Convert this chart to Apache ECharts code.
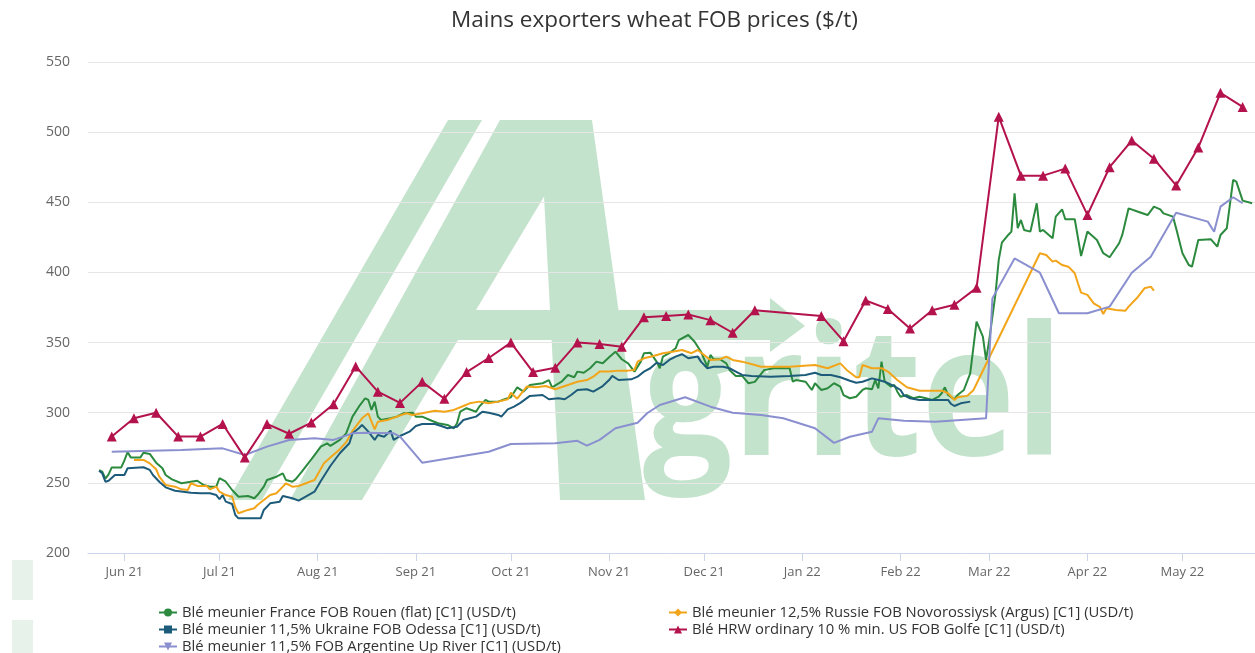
<!DOCTYPE html>
<html>
<head>
<meta charset="utf-8">
<script src="https://cdn.jsdelivr.net/npm/echarts@6/dist/echarts.min.js"></script>
<style>
html,body{margin:0;padding:0;background:#fff;}
#chart{width:1255px;height:653px;}
</style>
</head>
<body>
<div id="chart"></div>
<script>
const titleText = 'Mains exporters wheat FOB prices ($/t)';
const seriesNames = [
  'Blé meunier France FOB Rouen (flat) [C1] (USD/t)',
  'Blé meunier 12,5% Russie FOB Novorossiysk (Argus) [C1] (USD/t)',
  'Blé meunier 11,5% Ukraine FOB Odessa [C1] (USD/t)',
  'Blé HRW ordinary 10 % min. US FOB Golfe [C1] (USD/t)',
  'Blé meunier 11,5% FOB Argentine Up River [C1] (USD/t)'
];
const yTicks = [200, 250, 300, 350, 400, 450, 500, 550];
const monthNames = ['Jan','Feb','Mar','Apr','May','Jun','Jul','Aug','Sep','Oct','Nov','Dec'];

const france = [['2021-05-24',259],['2021-05-25',258],['2021-05-26',253],['2021-05-27',256],['2021-05-28',261],['2021-05-31',261],['2021-06-01',266],['2021-06-02',272],['2021-06-03',268],['2021-06-06',268],['2021-06-07',271.5],['2021-06-09',270.6],['2021-06-11',264.4],['2021-06-13',260.4],['2021-06-14',255.6],['2021-06-16',252.5],['2021-06-19',249.7],['2021-06-22',250.8],['2021-06-24',251.5],['2021-06-26',248.5],['2021-06-28',247.3],['2021-06-30',247.3],['2021-07-01',253.3],['2021-07-03',250.8],['2021-07-05',244.9],['2021-07-07',240.1],['2021-07-10',240.6],['2021-07-12',239],['2021-07-13',241.3],['2021-07-15',247.3],['2021-07-16',252],['2021-07-19',254.4],['2021-07-21',256.8],['2021-07-22',252],['2021-07-24',250.8],['2021-07-25',252.5],['2021-07-27',258],['2021-07-30',266.8],['2021-08-02',275.8],['2021-08-04',278.2],['2021-08-05',276.3],['2021-08-08',280.6],['2021-08-10',285.3],['2021-08-12',297.2],['2021-08-14',304.3],['2021-08-16',310.3],['2021-08-17',309.1],['2021-08-18',302],['2021-08-19',307.9],['2021-08-20',297.2],['2021-08-21',294.8],['2021-08-24',296],['2021-08-26',297.2],['2021-08-28',299.6],['2021-08-31',300],['2021-09-01',297.2],['2021-09-03',297.2],['2021-09-06',294.3],['2021-09-08',292.5],['2021-09-11',291.3],['2021-09-13',288.9],['2021-09-14',292.5],['2021-09-15',300.7],['2021-09-17',303.2],['2021-09-20',300.7],['2021-09-21',304.3],['2021-09-23',309.1],['2021-09-24',307.9],['2021-09-27',307.9],['2021-09-29',309.6],['2021-10-01',311],['2021-10-03',318.1],['2021-10-05',315],['2021-10-07',319.8],['2021-10-11',321],['2021-10-13',323.3],['2021-10-14',318.1],['2021-10-17',322.1],['2021-10-19',326.9],['2021-10-21',325.3],['2021-10-22',329.3],['2021-10-24',328.5],['2021-10-26',331.7],['2021-10-28',336.4],['2021-10-30',335.2],['2021-11-01',339.5],['2021-11-03',343.5],['2021-11-05',338.1],['2021-11-07',335.2],['2021-11-09',329.3],['2021-11-11',336.4],['2021-11-12',342.4],['2021-11-14',342.8],['2021-11-16',336.4],['2021-11-17',331.7],['2021-11-18',340],['2021-11-20',342.4],['2021-11-22',345.9],['2021-11-23',351.8],['2021-11-26',355.4],['2021-11-28',350.6],['2021-11-30',343.5],['2021-12-02',332.8],['2021-12-03',341.2],['2021-12-04',338.1],['2021-12-06',338.1],['2021-12-08',335.2],['2021-12-09',330.5],['2021-12-11',326.2],['2021-12-13',326.2],['2021-12-15',321],['2021-12-17',322],['2021-12-20',330.5],['2021-12-23',331.7],['2021-12-28',331.7],['2021-12-29',322.1],['2021-12-30',323.3],['2022-01-02',322.1],['2022-01-04',316.2],['2022-01-05',321],['2022-01-07',316.2],['2022-01-09',317.4],['2022-01-11',321],['2022-01-13',318.6],['2022-01-14',312.6],['2022-01-16',310.3],['2022-01-18',311.4],['2022-01-20',316.2],['2022-01-21',317.4],['2022-01-23',316.7],['2022-01-24',323.3],['2022-01-25',317.4],['2022-01-26',336.4],['2022-01-27',322.1],['2022-01-29',318.6],['2022-01-30',319.8],['2022-01-31',315],['2022-02-01',311.4],['2022-02-03',312.6],['2022-02-05',310.3],['2022-02-07',311.4],['2022-02-09',310.3],['2022-02-11',309.1],['2022-02-13',311.4],['2022-02-14',313.9],['2022-02-15',318.1],['2022-02-16',312.6],['2022-02-18',309.6],['2022-02-19',312.6],['2022-02-21',316.2],['2022-02-23',328.1],['2022-02-25',364.9],['2022-02-27',354.2],['2022-02-28',337.6],['2022-03-01',351.8],['2022-03-03',385.1],['2022-03-04',408.9],['2022-03-05',421.2],['2022-03-07',426.7],['2022-03-08',429.1],['2022-03-09',456.4],['2022-03-10',431.5],['2022-03-11',437.4],['2022-03-12',430.3],['2022-03-14',429.1],['2022-03-16',449.3],['2022-03-17',429.1],['2022-03-18',430.3],['2022-03-21',424.3],['2022-03-22',439.8],['2022-03-24',445],['2022-03-25',437.9],['2022-03-28',437.9],['2022-03-30',411.7],['2022-04-01',429.1],['2022-04-04',423.1],['2022-04-06',413.7],['2022-04-08',410.8],['2022-04-11',420.8],['2022-04-12',426.7],['2022-04-14',445.7],['2022-04-17',443.3],['2022-04-20',440.9],['2022-04-22',446.9],['2022-04-24',445],['2022-04-25',442.1],['2022-04-28',439.8],['2022-04-29',431.5],['2022-05-01',413.7],['2022-05-03',405.3],['2022-05-04',404.1],['2022-05-06',423.1],['2022-05-10',423.6],['2022-05-12',418.4],['2022-05-13',426.7],['2022-05-15',431.5],['2022-05-17',465.9],['2022-05-18',464.7],['2022-05-20',451.2],['2022-05-23',449.3]];

const russia = [['2021-06-04',266.3],['2021-06-07',266.3],['2021-06-09',263.9],['2021-06-11',259.7],['2021-06-12',254.4],['2021-06-14',248.5],['2021-06-17',247.3],['2021-06-19',245.4],['2021-06-21',244.9],['2021-06-22',249.7],['2021-06-24',247.8],['2021-06-27',247.8],['2021-06-28',245.4],['2021-06-30',247.3],['2021-07-01',243.7],['2021-07-03',241.3],['2021-07-05',240.1],['2021-07-06',232.6],['2021-07-07',228.3],['2021-07-10',230.7],['2021-07-12',231.9],['2021-07-13',234.2],['2021-07-15',237.8],['2021-07-17',241.3],['2021-07-19',242.6],['2021-07-21',247.3],['2021-07-22',249.7],['2021-07-24',247.3],['2021-07-26',247.8],['2021-07-31',252],['2021-08-03',264],['2021-08-05',268],['2021-08-08',274],['2021-08-10',279],['2021-08-12',287],['2021-08-15',296],['2021-08-17',299.6],['2021-08-18',293.6],['2021-08-19',288.2],['2021-08-20',293.6],['2021-08-23',294.8],['2021-08-26',297.2],['2021-08-29',299.6],['2021-08-31',298.4],['2021-09-03',299.6],['2021-09-07',301.4],['2021-09-10',300.7],['2021-09-13',302],['2021-09-16',304.8],['2021-09-18',306.7],['2021-09-21',307.9],['2021-09-24',306.7],['2021-09-27',307.9],['2021-09-30',309.6],['2021-10-01',314.3],['2021-10-03',310],['2021-10-06',318.6],['2021-10-09',318.1],['2021-10-12',319],['2021-10-15',316.7],['2021-10-19',319.8],['2021-10-22',322.1],['2021-10-25',323.3],['2021-10-27',325.7],['2021-10-29',329.3],['2021-11-01',329.3],['2021-11-04',330],['2021-11-07',330],['2021-11-09',330.5],['2021-11-10',336.4],['2021-11-12',338.8],['2021-11-15',340.4],['2021-11-18',342.4],['2021-11-21',343.5],['2021-11-24',344.7],['2021-11-27',342.4],['2021-11-29',344.7],['2021-12-01',341.2],['2021-12-03',337.6],['2021-12-06',338.1],['2021-12-08',340],['2021-12-10',337.6],['2021-12-13',336.4],['2021-12-17',334],['2021-12-19',332.8],['2021-12-22',332.8],['2021-12-28',332.8],['2022-01-05',334],['2022-01-09',331.7],['2022-01-13',335.2],['2022-01-15',330.5],['2022-01-18',325.3],['2022-01-19',325.3],['2022-01-20',334],['2022-01-23',331.7],['2022-01-26',331.7],['2022-01-28',329.3],['2022-01-31',323.3],['2022-02-03',318.1],['2022-02-07',315.7],['2022-02-14',315.7],['2022-02-16',313.9],['2022-02-18',309.1],['2022-02-19',311],['2022-02-22',312],['2022-02-24',316],['2022-03-17',413.7],['2022-03-19',412.4],['2022-03-21',407.7],['2022-03-22',408.4],['2022-03-24',405.3],['2022-03-26',404.1],['2022-03-28',399.4],['2022-03-29',392.3],['2022-03-30',385.6],['2022-04-01',384],['2022-04-03',378],['2022-04-05',375.2],['2022-04-06',370.4],['2022-04-07',374.4],['2022-04-10',373.2],['2022-04-13',372.7],['2022-04-14',375.6],['2022-04-17',382.7],['2022-04-19',388.7],['2022-04-21',389.9],['2022-04-22',387]];

const ukraine = [['2021-05-24',258.7],['2021-05-25',256.8],['2021-05-26',250.8],['2021-05-27',251.5],['2021-05-29',255.6],['2021-06-01',255.6],['2021-06-02',260.4],['2021-06-07',261.1],['2021-06-09',259.2],['2021-06-10',255.6],['2021-06-12',250.8],['2021-06-14',246.8],['2021-06-17',244.4],['2021-06-22',243],['2021-06-25',242.6],['2021-06-28',242.6],['2021-06-30',241.3],['2021-07-01',238.3],['2021-07-02',241.3],['2021-07-03',236.6],['2021-07-05',234.9],['2021-07-06',227.1],['2021-07-07',224.7],['2021-07-14',224.7],['2021-07-15',230.7],['2021-07-17',235.4],['2021-07-20',236.6],['2021-07-21',240.6],['2021-07-24',239],['2021-07-26',237.3],['2021-07-31',243.7],['2021-08-02',251.3],['2021-08-05',262],['2021-08-08',271.1],['2021-08-11',278.2],['2021-08-12',285.3],['2021-08-14',288.9],['2021-08-15',291.3],['2021-08-17',286.5],['2021-08-19',280.6],['2021-08-20',284.1],['2021-08-22',282.9],['2021-08-24',287.2],['2021-08-25',280.6],['2021-08-27',283.4],['2021-08-30',286.5],['2021-09-01',290.5],['2021-09-03',292],['2021-09-07',292],['2021-09-09',290.5],['2021-09-11',288.9],['2021-09-14',290],['2021-09-16',294.8],['2021-09-18',296],['2021-09-20',297.2],['2021-09-22',300.7],['2021-09-24',300],['2021-09-27',298.4],['2021-09-28',297.2],['2021-09-30',302.4],['2021-10-02',304.3],['2021-10-04',307],['2021-10-07',312],['2021-10-11',312.6],['2021-10-13',309.6],['2021-10-16',310.3],['2021-10-18',309.6],['2021-10-20',312.6],['2021-10-22',316.2],['2021-10-25',316.7],['2021-10-27',315],['2021-10-30',319],['2021-11-01',323.3],['2021-11-02',326.2],['2021-11-04',323.3],['2021-11-08',323.8],['2021-11-10',325.7],['2021-11-12',329.3],['2021-11-14',331.7],['2021-11-16',335.7],['2021-11-18',334],['2021-11-20',337.6],['2021-11-22',340],['2021-11-24',341.7],['2021-11-26',338.8],['2021-11-29',340],['2021-11-30',336.4],['2021-12-02',331.7],['2021-12-04',332.8],['2021-12-07',332.8],['2021-12-09',331.7],['2021-12-11',329.3],['2021-12-13',326.9],['2021-12-16',326.2],['2021-12-22',325.7],['2021-12-28',326.2],['2022-01-02',326.9],['2022-01-05',328.5],['2022-01-07',326.9],['2022-01-10',326.9],['2022-01-13',325.3],['2022-01-16',322.8],['2022-01-18',321.4],['2022-01-20',322.1],['2022-01-23',324.5],['2022-01-25',323.3],['2022-01-27',322.1],['2022-01-30',319],['2022-02-01',316.2],['2022-02-02',312.6],['2022-02-04',310.3],['2022-02-07',309.1],['2022-02-12',309.1],['2022-02-16',309.1],['2022-02-17',306.2],['2022-02-18',304.8],['2022-02-20',306.7],['2022-02-23',307.9]];

const usDates = ['2021-05-28','2021-06-04','2021-06-11','2021-06-18','2021-06-25','2021-07-02','2021-07-09','2021-07-16','2021-07-23','2021-07-30','2021-08-06','2021-08-13','2021-08-20','2021-08-27','2021-09-03','2021-09-10','2021-09-17','2021-09-24','2021-10-01','2021-10-08','2021-10-15','2021-10-22','2021-10-29','2021-11-05','2021-11-12','2021-11-19','2021-11-26','2021-12-03','2021-12-10','2021-12-17','2022-01-07','2022-01-14','2022-01-21','2022-01-28','2022-02-04','2022-02-11','2022-02-18','2022-02-25','2022-03-04','2022-03-11','2022-03-18','2022-03-25','2022-04-01','2022-04-08','2022-04-15','2022-04-22','2022-04-29','2022-05-06','2022-05-13','2022-05-20'];
const usValues = [283,296,300,283,283,292,268,292,285,293,306,333,315,307,322,310,329,339,350,329,332,350,349,347,368,369,370,366,357,373,369,351,380,374,360,373,377,389,511,469,469,474,441,475,494,481,462,489,528,518];

const argentina = [['2021-05-28',272.2],['2021-06-19',273.4],['2021-07-02',274.6],['2021-07-09',269.9],['2021-07-16',275.8],['2021-07-23',280.6],['2021-07-31',281.8],['2021-08-06',280.6],['2021-08-12',285.3],['2021-08-16',285.8],['2021-08-25',285.3],['2021-08-27',283],['2021-09-03',264.4],['2021-09-24',272.2],['2021-10-01',277.7],['2021-10-15',278.2],['2021-10-22',280],['2021-10-25',276.5],['2021-10-29',280.6],['2021-11-03',288.9],['2021-11-10',292.9],['2021-11-13',299.6],['2021-11-17',305.5],['2021-11-25',311],['2021-12-03',304.3],['2021-12-10',300],['2021-12-19',298.4],['2021-12-26',296],['2022-01-05',288.9],['2022-01-11',278.5],['2022-01-16',282.9],['2022-01-23',286.5],['2022-01-25',296],['2022-02-02',294.3],['2022-02-12',293.6],['2022-02-28',296],['2022-03-02',381.5],['2022-03-09',410],['2022-03-17',399.8],['2022-03-23',370.9],['2022-04-01',370.9],['2022-04-08',375.6],['2022-04-15',399.8],['2022-04-21',411.2],['2022-04-29',442.6],['2022-05-09',436.2],['2022-05-11',429],['2022-05-13',446.9],['2022-05-17',453.6],['2022-05-20',449.3]];

const colors = ['#2b8a3e', '#f3a51a', '#1d5b7a', '#b3124c', '#8a8fcf'];
const FONT = '"Open Sans", "Noto Sans", sans-serif';
const WM = '#c4e3cd';

const chart = echarts.init(document.getElementById('chart'), null, {renderer: 'canvas'});

function lineSeries(name, data, color, symbol, extra) {
  return Object.assign({
    name: name,
    type: 'line',
    data: data,
    symbol: symbol,
    symbolSize: 9,
    showSymbol: false,
    lineStyle: {width: 2, color: color},
    itemStyle: {color: color},
    emphasis: {disabled: true},
    z: 3
  }, extra || {});
}

const legendText = {fontSize: 14.8, color: '#333', fontFamily: FONT};

const option = {
  animation: false,
  backgroundColor: '#ffffff',
  textStyle: {fontFamily: FONT},
  title: {
    text: titleText,
    left: 446,
    top: 4,
    textStyle: {fontSize: 22.5, fontWeight: 'normal', color: '#333', fontFamily: FONT}
  },
  graphic: [
    {type: 'rect', shape: {x: 12, y: 560, width: 21, height: 40}, style: {fill: '#e7f3ea'}, silent: true, z: -10},
    {type: 'rect', shape: {x: 12, y: 620, width: 21, height: 40}, style: {fill: '#e7f3ea'}, silent: true, z: -10},
    {type: 'polygon', shape: {points: [[228,500],[262,500],[482,120],[448,120]]}, style: {fill: WM}, silent: true, z: -10},
    {type: 'polygon', shape: {points: [[290,500],[362,500],[590,120],[500,120]]}, style: {fill: WM}, silent: true, z: -10},
    {type: 'polygon', shape: {points: [[560,500],[645,500],[592,120],[540,120]]}, style: {fill: WM}, silent: true, z: -10},
    {type: 'polygon', shape: {points: [[420,310],[770,310],[770,298],[805,326],[770,352],[770,340],[405,340]]}, style: {fill: WM}, silent: true, z: -10},
    {type: 'text', x: 643, y: 494, scaleX: 0.88, style: {text: 'gritel', font: 'bold 180px "Open Sans", sans-serif', fill: WM, verticalAlign: 'bottom', align: 'left'}, silent: true, z: -10}
  ],
  legend: [
    {
      orient: 'vertical', left: 153, top: 600, height: 90, itemGap: 2, itemWidth: 18, itemHeight: 10,
      data: [seriesNames[0], seriesNames[2], seriesNames[4]],
      textStyle: legendText,
      selectedMode: false
    },
    {
      orient: 'vertical', left: 663, top: 600, height: 90, itemGap: 2, itemWidth: 18, itemHeight: 10,
      data: [seriesNames[1], seriesNames[3]],
      textStyle: legendText,
      selectedMode: false
    }
  ],
  grid: {left: 88, right: 0, top: 62, bottom: 100, containLabel: false},
  xAxis: {
    type: 'time',
    min: new Date(2021, 4, 20, 12).getTime(),
    max: new Date(2022, 4, 23, 21, 36).getTime(),
    splitNumber: 12,
    axisLine: {lineStyle: {color: '#ccd6eb', width: 1}},
    axisTick: {show: true, length: 8, lineStyle: {color: '#ccd6eb'}},
    splitLine: {show: false},
    axisLabel: {
      color: '#666', fontSize: 13, margin: 13, fontFamily: FONT,
      formatter: function (val) {
        const d = new Date(val);
        return monthNames[d.getMonth()] + ' ' + String(d.getFullYear()).slice(2);
      }
    }
  },
  yAxis: {
    type: 'value',
    min: yTicks[0],
    max: yTicks[yTicks.length - 1],
    interval: 50,
    axisLine: {show: false},
    axisTick: {show: false},
    splitLine: {lineStyle: {color: '#e6e6e6', width: 1}},
    axisLabel: {color: '#666', fontSize: 14, margin: 18, fontFamily: FONT}
  },
  series: [
    lineSeries(seriesNames[0], france, colors[0], 'circle'),
    lineSeries(seriesNames[1], russia, colors[1], 'diamond'),
    lineSeries(seriesNames[2], ukraine, colors[2], 'rect'),
    lineSeries(seriesNames[3], usDates.map((d, i) => [d, usValues[i]]), colors[3], 'triangle', {showSymbol: true, symbolSize: 10, z: 4}),
    lineSeries(seriesNames[4], argentina, colors[4], 'triangle', {symbolRotate: 180})
  ]
};
chart.setOption(option);
</script>
</body>
</html>
